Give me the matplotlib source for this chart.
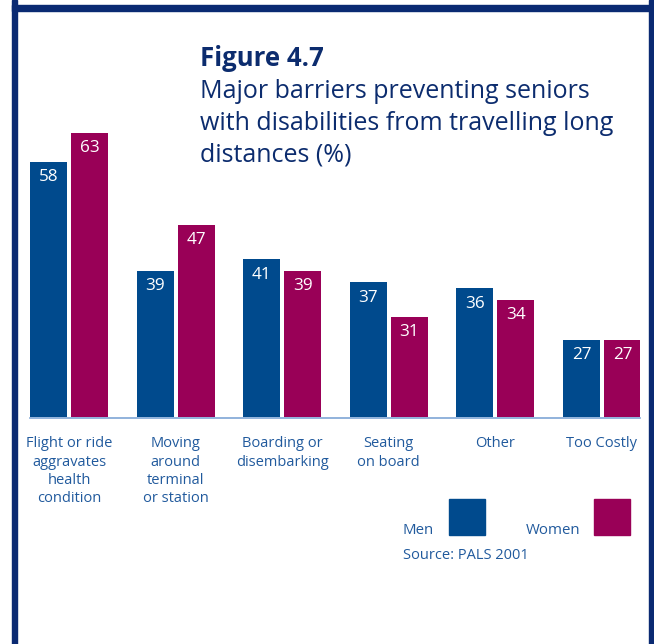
import matplotlib
matplotlib.use("Agg")
import matplotlib.pyplot as plt
from matplotlib.patches import Rectangle
import numpy as np

categories = ["Flight or ride\naggravates\nhealth\ncondition",
              "Moving\naround\nterminal\nor station",
              "Boarding or\ndisembarking",
              "Seating\non board",
              "Other",
              "Too Costly"]
series_names = ["Men", "Women"]
men = [58, 39, 41, 37, 36, 27]
women = [63, 47, 39, 31, 34, 27]

title = "Figure 4.7"
subtitle_lines = ["Major barriers preventing seniors",
                  "with disabilities from travelling long",
                  "distances (%)"]
source = "Source: PALS 2001"

MEN_C = "#004a8d"
WOMEN_C = "#990057"
NAVY = "#0c2c6e"
LABEL_C = "#215a9d"
FRAME_C = "#0a2a72"

plt.rcParams['font.family'] = ['Open Sans', 'DejaVu Sans']

W, H = 654, 644
fig = plt.figure(figsize=(W/100, H/100), dpi=100)

def fx(px):
    return px / W

def fy(py):
    return 1 - py / H

# Frame
fig.patches.append(Rectangle((fx(12), fy(644)), fx(5), 644/H, transform=fig.transFigure,
                             color=FRAME_C, zorder=0))
fig.patches.append(Rectangle((fx(12), fy(10.5)), fx(642), 5.5/H, transform=fig.transFigure,
                             color=FRAME_C, zorder=0))
fig.patches.append(Rectangle((fx(649), fy(644)), fx(5), 644/H, transform=fig.transFigure,
                             color=FRAME_C, zorder=0))

ax_top, ax_bot = 100, 417
ax = fig.add_axes([fx(30), fy(ax_bot), fx(610), (ax_bot - ax_top)/H])
x = np.arange(len(categories))
bw = 0.347
off = bw/2 + 0.0188
b1 = ax.bar(x - off, men, bw, color=MEN_C, zorder=2)
b2 = ax.bar(x + off, women, bw, color=WOMEN_C, zorder=2)
ax.set_xlim(-0.366, 5.357)
y0 = 13.57
ax.set_ylim(y0, y0 + (ax_bot - ax_top)/5.75)

for bars, vals in ((b1, men), (b2, women)):
    for r, v in zip(bars, vals):
        ax.annotate(str(v), (r.get_x() + r.get_width()/2, v), xytext=(0, -11.2),
                    textcoords='offset points', ha='center', va='center',
                    color='white', fontsize=12.3)

for s in ['top', 'left', 'right']:
    ax.spines[s].set_visible(False)
ax.spines['bottom'].set_color('#7ea6d6')
ax.spines['bottom'].set_linewidth(1.2)
ax.spines['bottom'].set_position(('outward', 1))
ax.set_yticks([])
ax.set_xticks(x)
ax.set_xticklabels(categories, color=LABEL_C, fontsize=10.5, linespacing=1.3, va='top')
ax.tick_params(axis='x', length=0, pad=13)
ax.patch.set_alpha(0)

fig.text(fx(200), fy(66), title, fontsize=18.5, fontweight='bold', color=NAVY, va='baseline', ha='left')
for i, line in enumerate(subtitle_lines):
    fig.text(fx(200), fy(98 + 32 * i), line, fontsize=18, color=NAVY, va='baseline', ha='left')

# Legend
fig.text(fx(403), fy(534), series_names[0], fontsize=10.8, color=LABEL_C, va='baseline', ha='left')
fig.patches.append(Rectangle((fx(449), fy(535)), fx(36), 36/H, transform=fig.transFigure, color=MEN_C))
fig.text(fx(526), fy(534), series_names[1], fontsize=10.8, color=LABEL_C, va='baseline', ha='left')
fig.patches.append(Rectangle((fx(594), fy(535)), fx(36), 36/H, transform=fig.transFigure, color=WOMEN_C))
fig.text(fx(403), fy(559), source, fontsize=10.5, color=LABEL_C, va='baseline', ha='left')

fig.savefig("out.png", dpi=100)
